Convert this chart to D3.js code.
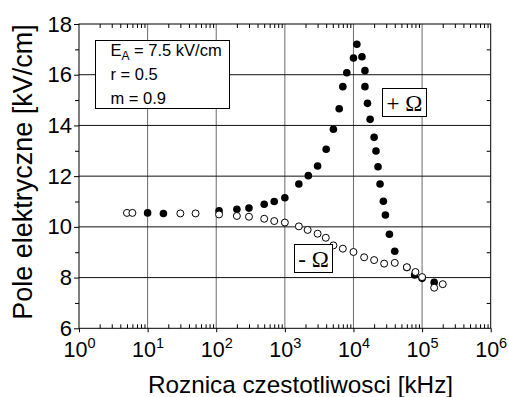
<!DOCTYPE html>
<html>
<head>
<meta charset="utf-8">
<script src="https://cdn.jsdelivr.net/npm/d3@7"></script>
<style>
  html, body { margin: 0; padding: 0; background: #fff; }
  svg { display: block; font-family: "Liberation Sans", Arial, sans-serif; }
</style>
</head>
<body>
<svg id="chart" width="509" height="397"></svg>
<script>
// Frequency difference [kHz] and field strength [kV/cm] for both branches
const plusFreq  = [10, 17, 110, 200, 300, 500, 700, 1000, 1600, 2200, 3000, 4000, 5100, 6200, 7000, 8000, 10000, 11200, 13300, 14700, 14700, 16000, 17500, 20000, 21300, 22800, 24400, 27300, 29200, 33400, 40000, 60000, 78000, 100000, 150000];
const plusField = [10.55, 10.53, 10.63, 10.69, 10.74, 10.89, 11.0, 11.15, 11.69, 12.02, 12.4, 13.06, 13.85, 14.66, 15.53, 16.08, 16.66, 17.2, 16.71, 16.16, 15.53, 14.87, 14.24, 13.53, 12.99, 12.37, 11.69, 11.01, 10.47, 9.71, 9.04, 8.4, 8.1, 7.97, 7.81];

const minusFreq  = [5, 6, 30, 50, 110, 200, 300, 500, 700, 1000, 1600, 2150, 3000, 3950, 5100, 7000, 10000, 14300, 20000, 28000, 40000, 60000, 80000, 100000, 150000, 200000];
const minusField = [10.55, 10.55, 10.53, 10.53, 10.49, 10.43, 10.40, 10.32, 10.23, 10.17, 10.02, 9.88, 9.73, 9.57, 9.27, 9.14, 9.01, 8.80, 8.69, 8.55, 8.58, 8.41, 8.22, 8.02, 7.60, 7.74];

const xDecades = [0, 1, 2, 3, 4, 5, 6];
const yTicks = [6, 8, 10, 12, 14, 16, 18];
const yMinor = [7, 9, 11, 13, 15, 17];
const paramLines = [["E", "A", " = 7.5 kV/cm"], ["r = 0.5"], ["m = 0.9"]];

const svg = d3.select("#chart");
const L = 79, R = 490.7, T = 24, B = 328.3;

const x = d3.scaleLog().domain([1, 1e6]).range([L, R]);
const y = d3.scaleLinear().domain([6, 18]).range([B, T]);

const majorX = xDecades.map(e => Math.pow(10, e));
const minorX = [];
for (let e = 0; e < 6; e++) for (let m = 2; m <= 9; m++) minorX.push(m * Math.pow(10, e));

// grid
svg.append("g").selectAll("line").data(majorX.slice(1, -1)).join("line")
  .attr("x1", d => x(d)).attr("x2", d => x(d)).attr("y1", T).attr("y2", B)
  .attr("stroke", "#6a6a6a").attr("stroke-width", 1);
svg.append("g").selectAll("line").data(yTicks.slice(1, -1)).join("line")
  .attr("x1", L).attr("x2", R).attr("y1", d => y(d)).attr("y2", d => y(d))
  .attr("stroke", "#111").attr("stroke-width", 1);

function styleAxis(g) {
  g.select(".domain").remove();
  g.selectAll("line").attr("stroke", "#000");
}

// bottom axis: minor ticks inside, major ticks crossing
svg.append("g").attr("transform", `translate(0,${B})`)
  .call(d3.axisBottom(x).tickValues(minorX).tickSize(-4).tickFormat(""))
  .call(styleAxis);
const bottomMajor = svg.append("g").attr("transform", `translate(0,${B})`)
  .call(d3.axisBottom(x).tickValues(majorX).tickSize(4).tickFormat(""))
  .call(styleAxis);
bottomMajor.selectAll(".tick").append("text")
  .attr("y", 28.5).attr("fill", "#000").attr("font-size", 21.5)
  .attr("text-anchor", "middle")
  .each(function(d) {
    const t = d3.select(this);
    t.append("tspan").text("10");
    t.append("tspan").attr("dy", -9).attr("font-size", 14.5).text(Math.round(Math.log10(d)));
  });

// top axis: minor ticks inside
svg.append("g").attr("transform", `translate(0,${T})`)
  .call(d3.axisTop(x).tickValues(minorX).tickSize(-4).tickFormat(""))
  .call(styleAxis);

// left axis: ticks outside
const leftAxis = svg.append("g").attr("transform", `translate(${L},0)`)
  .call(d3.axisLeft(y).tickValues(yTicks).tickSize(5).tickPadding(2).tickFormat(d3.format("d")))
  .call(styleAxis);
leftAxis.selectAll("text").attr("font-size", 22).attr("fill", "#000")
  .attr("font-family", "Liberation Sans, Arial, sans-serif");
svg.append("g").attr("transform", `translate(${L},0)`)
  .call(d3.axisLeft(y).tickValues(yMinor).tickSize(4).tickFormat(""))
  .call(styleAxis);

// right axis: minor ticks inside
svg.append("g").attr("transform", `translate(${R},0)`)
  .call(d3.axisRight(y).tickValues(yMinor).tickSize(-4).tickFormat(""))
  .call(styleAxis);

// frame
svg.append("rect").attr("x", L).attr("y", T).attr("width", R - L).attr("height", B - T)
  .attr("fill", "none").attr("stroke", "#000").attr("stroke-width", 1);

// axis titles
svg.append("text").attr("x", 300.5).attr("y", 393).attr("text-anchor", "middle")
  .attr("font-size", 24.3).text("Roznica czestotliwosci [kHz]");
svg.append("text").attr("transform", "translate(32,172) rotate(-90)")
  .attr("text-anchor", "middle").attr("font-size", 27).text("Pole elektryczne [kV/cm]");

// + Omega branch (filled)
svg.append("g").selectAll("circle").data(plusFreq.map((f, i) => [f, plusField[i]])).join("circle")
  .attr("cx", d => x(d[0])).attr("cy", d => y(d[1])).attr("r", 3.8).attr("fill", "#000");

// - Omega branch (open)
svg.append("g").selectAll("circle").data(minusFreq.map((f, i) => [f, minusField[i]])).join("circle")
  .attr("cx", d => x(d[0])).attr("cy", d => y(d[1])).attr("r", 3.5)
  .attr("fill", "#fff").attr("stroke", "#000").attr("stroke-width", 1);

// parameter box
svg.append("rect").attr("x", 95.5).attr("y", 40.5).attr("width", 134).attr("height", 68)
  .attr("fill", "#fff").attr("stroke", "#000").attr("stroke-width", 1);
const pText = svg.append("g").attr("font-size", 16.5);
paramLines.forEach((parts, i) => {
  const t = pText.append("text").attr("x", 110.5).attr("y", 56 + i * 24);
  t.append("tspan").text(parts[0]);
  if (parts.length > 1) {
    t.append("tspan").attr("dy", 4).attr("font-size", 12).text(parts[1]);
    t.append("tspan").attr("dy", -4).text(parts[2]);
  }
});

// branch labels
function labelBox(x0, y0, w, h, txt) {
  svg.append("rect").attr("x", x0).attr("y", y0).attr("width", w).attr("height", h)
    .attr("fill", "#fff").attr("stroke", "#000").attr("stroke-width", 1);
  svg.append("text").attr("x", x0 + w / 2).attr("y", y0 + h - 6).attr("text-anchor", "middle")
    .attr("font-family", "Liberation Serif, 'Times New Roman', serif").attr("font-size", 23)
    .text(txt);
}
labelBox(382.5, 88.5, 44, 28, "+ \u03A9");
labelBox(294.5, 244.5, 38, 28, "- \u03A9");
</script>
</body>
</html>
